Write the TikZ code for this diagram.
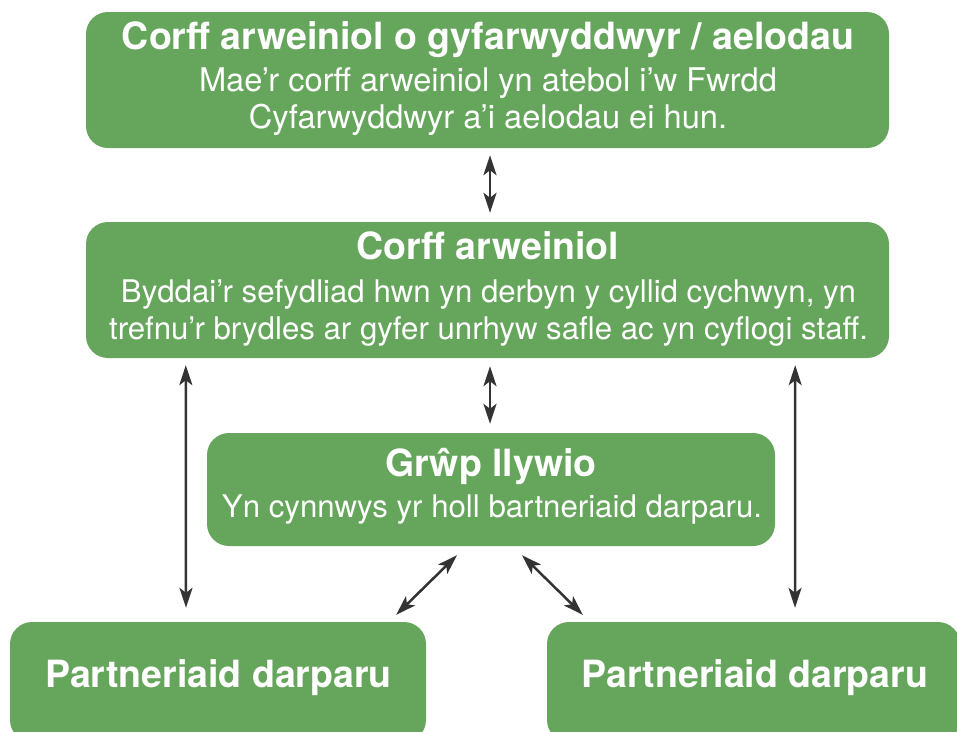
\documentclass[tikz,border=0pt]{standalone}
\usepackage{fontspec}
\setmainfont{TeX Gyre Heros}
\usetikzlibrary{arrows.meta,calc}
\definecolor{boxgreen}{HTML}{66A65C}
\definecolor{arrowgray}{HTML}{333333}
\begin{document}
\begin{tikzpicture}[x=1pt,y=-1pt,
  box/.style={fill=boxgreen, draw=none, rounded corners=22pt, inner sep=0pt},
  ttl/.style={anchor=base, text=white, inner sep=0pt, font=\fontsize{37.5}{44}\selectfont\bfseries},
  bdy/.style={anchor=base, text=white, inner sep=0pt, font=\fontsize{31.2}{37}\selectfont},
  bdybig/.style={bdy, font=\fontsize{32.6}{38}\selectfont},
  tip/.tip={Stealth[length=20pt,width=13pt,inset=5pt]},
  arr/.style={draw=arrowgray, line width=2.5pt, tip-tip}]
\useasboundingbox (0,0) rectangle (957,731);
\clip (0,0) rectangle (957,731);
% boxes
\node[box, minimum width=803pt, minimum height=136pt] (b1) at (487.5,80) {};
\node[box, minimum width=803pt, minimum height=136pt] (b2) at (487.5,290) {};
\node[box, minimum width=568pt, minimum height=113pt] (b3) at (491,489.5) {};
\node[box, minimum width=416pt, minimum height=120pt] (b4) at (218,682) {};
\node[box, minimum width=413pt, minimum height=120pt] (b5) at (753.5,682) {};
% texts
\node[ttl] (t1) at (488,49) {Corff arweiniol o gyfarwyddwyr / aelodau};
\node[bdybig] (d1a) at (488,91) {Mae’r corff arweiniol yn atebol i’w Fwrdd};
\node[bdybig] (d1b) at (488,128) {Cyfarwyddwyr a’i aelodau ei hun.};
\node[ttl] (t2) at (488,259) {Corff arweiniol};
\node[bdy] (d2a) at (488.5,302) {Byddai’r sefydliad hwn yn derbyn y cyllid cychwyn, yn};
\node[bdy] (d2b) at (488.5,339) {trefnu’r brydles ar gyfer unrhyw safle ac yn cyflogi staff.};
\node[ttl] (t3) at (491,476) {Grŵp llywio};
\node[bdy] (d3) at (492,517) {Yn cynnwys yr holl bartneriaid darparu.};
\node[ttl] (t4) at (218.5,687) {Partneriaid darparu};
\node[ttl] (t5) at (755,687) {Partneriaid darparu};
% connectors
\draw[arr] ($(b1.south)+(2.5,7)$) -- ($(b2.north)+(2.5,-9)$);
\draw[arr] ($(b2.south)+(2.5,8)$) -- ($(b3.north)+(-1,-9)$);
\draw[arr] ($(b2.south west)+(100,7)$) -- ($(b4.north)+(-32,-14)$);
\draw[arr] ($(b2.south east)+(-94,7)$) -- ($(b5.north)+(41.5,-14)$);
\draw[arr] ($(b3.south)+(-34,9)$) -- ($(b4.north east)+(-30,-7)$);
\draw[arr] ($(b3.south)+(31,9)$) -- ($(b5.north west)+(36,-7)$);
\end{tikzpicture}
\end{document}
